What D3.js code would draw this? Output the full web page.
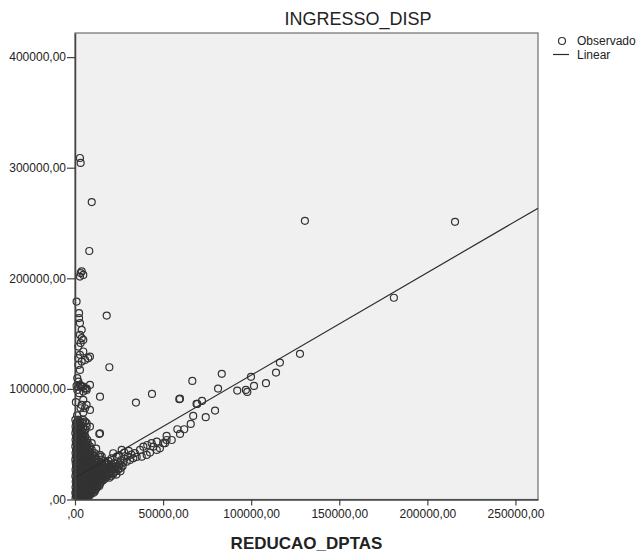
<!DOCTYPE html>
<html>
<head>
<meta charset="utf-8">
<script src="https://cdn.jsdelivr.net/npm/d3@7/dist/d3.min.js"></script>
<style>
  body { margin: 0; background: #fff; font-family: "Liberation Sans", Arial, sans-serif; }
  .tick text { fill: #222; font-size: 12px; font-family: "Liberation Sans", Arial, sans-serif; }
</style>
</head>
<body>
<div id="chart"></div>
<script>
// all values in thousands (REDUCAO_DPTAS, INGRESSO_DISP)
const farPoints = [
  [2.8,308.8],[3.2,304.3],[9.5,268.9],[8.1,224.7],[3.2,204.7],[3.8,206.2],[2.8,201.6],[4.7,203.1],
  [130.5,252],[215.7,251.1],[181,182.4],[127.7,131.7],[18,166.3],[19.5,119.6]
];
const midPoints = [
  [43.7,95.5],[59.2,90.7],[59.6,91.2],[66.6,107.2],[83.3,113.6],[69.4,86.4],[72.1,89.1],[81.2,100.3],
  [67.1,75.6],[74.2,74.4],[79.5,80.4],[58.1,63.5],[62,63.5],[65.7,68.3],[52,57.5],[59.6,59.3],
  [50.1,50.9],[44.4,47.8],[54.9,53.8],[99.9,110.9],[92.1,98.5],[97,99.1],[97.8,97.3],[101.6,102.7],
  [108.4,105.2],[114.1,114.8],[116.3,123.8],[34.6,87.6],[69,86.4],[13.8,59.3],[9.5,50.9],[14.2,93]
];
const branchPoints = [
  [36.9,44.8],[38.8,47.8],[41,49.3],[43.5,50.9],[46.4,52.3],[21.7,41.8],[26.5,44.8],[23.7,38.7],
  [20.8,37.3],[15.2,38.7],[14.2,40.3],[25.1,31.2],[27.4,33.3],[29.3,34.2],[31.2,35.7],[33.1,37.3],
  [35,38.5],[37.9,38.7],[40.7,40.3],[42.6,42.4],[46.4,44.8],[48.2,46.3],[51.1,50.9],[52,53.8],
  [14.2,59.9],[8.5,65.9],
  [16,20],[18,22],[20,24],[22,27],[24,29],[17.5,25],[19,28],[21,30],[23,32.5],[26,35.5],
  [28,37],[30,39],[32,40.5],[34,42],[25,40],[28,42.5],[30.5,44],[17,33],[19,35],[12,46]
];
const columnPoints = [
  [0.9,179],[2.3,168.5],[2.3,164],[2.8,159.5],[3.8,153.4],[2.8,148.9],[3.8,145.9],[4.7,144.3],
  [3.2,141.4],[1.9,138.3],[4.7,133.8],[2.8,130.8],[1.9,127.8],[3.8,124.7],[5.7,126.2],[7.5,127.8],
  [8.5,129.2],[1.9,121.7],[2.8,117.2],[1.3,109.7],[1.9,106.6],[2.8,103.6],[3.8,102.1],[5.7,100.6],
  [8.5,103.6],[0.9,102.7],[1.9,102.1],[3.2,102.7],[4.7,102.1],[6.6,100.3],[1.3,99.1],[2.4,96.1],
  [4.7,97.6],[6.6,99.1],[4.7,90],[3.8,85.5],[5.7,82.5],[8.5,81],[3.2,82.5],[6.6,85.5],[4.7,78.6],
  [1.9,72],[5.7,70.4],[4.7,72],[6.6,69],[6.6,65.9],[2.8,59.9],[4.7,56.8],[0.5,88],[1.2,76]
];
// dense block near the origin: one row of x values per y value
const blobY = [1,3.5,6,8.5,11,13.5,16,18.5,21,24,27,30,33,36,39,42,45,48,51,54,57,60,63,66,69,72];
const blobX = [
  [0.3,1.5,3,4.5,6,7.5],
  [0.5,2,3.5,5,6.5,8],
  [0.2,1.2,2.8,4.2,5.8,7.3,8.8,10.5],
  [0.6,2.2,3.6,5.1,6.6,8.2,9.7,11.3],
  [0.3,1.7,3.2,4.8,6.3,7.9,9.4,11,12.6],
  [0.8,2.4,3.9,5.5,7,8.6,10.1,11.8,13.5],
  [0.4,1.9,3.4,5,6.6,8.1,9.7,11.4,13,14.6],
  [0.7,2.3,3.8,5.3,6.9,8.5,10.2,11.8,13.4,15.1,16.8],
  [0.2,1.6,3.1,4.7,6.3,7.9,9.5,11,12.7,14.4,16,18.2,20.5],
  [0.5,2.1,3.6,5.2,6.8,8.4,10,11.7,13.3,15,17,19.5,22],
  [0.3,1.8,3.4,4.9,6.5,8.1,9.8,11.4,13.1,15.2,18,21,24.5],
  [0.6,2.2,3.7,5.3,6.9,8.6,10.3,12,14,16.5,19.8,23,27],
  [0.4,1.9,3.5,5,6.7,8.4,10.1,12.2,14.8,18,22],
  [0.2,1.6,3.2,4.8,6.4,8.1,9.9,12,15],
  [0.5,2,3.6,5.2,6.9,8.7,10.8,13.5],
  [0.3,1.8,3.3,4.9,6.6,8.5,11],
  [0.6,2.2,3.8,5.5,7.3,9.5],
  [0.2,1.7,3.2,4.8,6.6,8.5],
  [0.5,2,3.6,5.3,7.2],
  [0.3,1.8,3.4,5.1,7],
  [0.6,2.1,3.8,5.8],
  [0.2,1.7,3.3,5.2],
  [0.5,2,3.7,5.9],
  [0.3,1.8,3.5],
  [0.6,2.2,4.3],
  [0.2,1.9]
];
// second, staggered set of rows inside the same block
const blobY2 = [2.2,4.7,7.2,9.7,12.2,14.7,17.2,19.7,22.5,25.5,28.5,31.5,34.5,37.5,40.5,43.5,46.5,49.5,52.5,55.5,58.5,61.5,64.5,67.5,70.5];
const blobX2 = [
  [1,2.3,3.8,5.3,6.8],
  [0.9,2.6,4.1,5.7,7.2,8.9],
  [0.8,2,3.5,4.9,6.5,8,9.6,11.2],
  [1.1,2.6,4,5.6,7.1,8.7,10.3,12],
  [1,2.5,4,5.6,7.2,8.8,10.4,12,13.8],
  [1.2,2.8,4.4,5.9,7.5,9.1,10.8,12.6,14.4],
  [1.1,2.7,4.2,5.8,7.4,9,10.6,12.3,14,15.8],
  [1,2.5,4,5.6,7.2,8.8,10.4,12.1,13.8,15.6,17.5,19.5],
  [0.9,2.4,4,5.5,7.1,8.7,10.4,12,13.7,15.5,17.4,19.5,21.5,23.5],
  [1.2,2.8,4.3,6,7.6,9.2,10.8,12.5,14.2,16,18.5,20.5,23,25.8],
  [1,2.6,4.1,5.7,7.3,8.9,10.6,12.3,14.2,16.8,19.5,22.5,26],
  [1.3,2.9,4.5,6.1,7.7,9.4,11.2,13.1,15.5,18.5,21,25],
  [1.1,2.6,4.2,5.8,7.5,9.2,11,13.5,16.5],
  [1,2.7,4.3,6,7.7,9.5,11.8],
  [1.2,2.7,4.2,5.8,7.6,9.8],
  [1,2.6,4.2,6,8],
  [1.2,2.8,4.4,6.2,8.3],
  [1,2.6,4.2,6.1],
  [1.3,2.9,4.5,6.3],
  [1,2.6,4.4],
  [1.2,2.8,4.6],
  [1,2.5,4.2],
  [1.2,2.7,4.6],
  [1,2.6],
  [1.3,3]
];
// linear fit end points
const fitX = [0, 262.8];
const fitY = [19.6, 263.4];

const xTicks = [0, 50000, 100000, 150000, 200000, 250000];
const yTicks = [0, 100000, 200000, 300000, 400000];

const W = 640, H = 552;
const pL = 75, pR = 538, pT = 33, pB = 499.5;

const svg = d3.select("#chart").append("svg")
  .attr("width", W).attr("height", H);

const x = d3.scaleLinear().domain([0, 262800]).range([pL, pR]);
const y = d3.scaleLinear().domain([0, 421800]).range([pB, pT]);

// plot background + frame
svg.append("rect")
  .attr("x", pL).attr("y", pT)
  .attr("width", pR - pL).attr("height", pB - pT)
  .attr("fill", "#f0f0f0")
  .attr("stroke", "#6e6e6e")
  .attr("stroke-width", 1.2);

svg.append("clipPath").attr("id", "plotclip")
  .append("rect")
  .attr("x", pL - 6).attr("y", pT)
  .attr("width", pR - pL + 6).attr("height", pB - pT);

let points = [].concat(farPoints, midPoints, branchPoints, columnPoints);
blobY.forEach((yy, i) => blobX[i].forEach(xx => points.push([xx, yy])));
blobY2.forEach((yy, i) => blobX2[i].forEach(xx => points.push([xx, yy])));

const g = svg.append("g").attr("clip-path", "url(#plotclip)");

g.selectAll(".obs")
  .data(points)
  .enter().append("circle")
  .attr("class", "obs")
  .attr("cx", d => x(d[0] * 1000))
  .attr("cy", d => y(d[1] * 1000))
  .attr("r", 3.5)
  .attr("fill", "none")
  .attr("stroke", "#333")
  .attr("stroke-width", 1.2);

g.append("line")
  .attr("x1", x(fitX[0] * 1000)).attr("y1", y(fitY[0] * 1000))
  .attr("x2", x(fitX[1] * 1000)).attr("y2", y(fitY[1] * 1000))
  .attr("stroke", "#2a2a2a")
  .attr("stroke-width", 1.2);

const fmt = d => d === 0 ? ",00" : d + ",00";

const yAxis = svg.append("g")
  .attr("transform", `translate(${pL},0)`)
  .call(d3.axisLeft(y).tickValues(yTicks).tickFormat(fmt).tickSize(8).tickPadding(1).tickSizeOuter(0));
const xAxis = svg.append("g")
  .attr("transform", `translate(0,${pB})`)
  .call(d3.axisBottom(x).tickValues(xTicks).tickFormat(fmt).tickSize(6).tickPadding(4).tickSizeOuter(0));

[yAxis, xAxis].forEach(a => {
  a.select(".domain").attr("stroke", "#444").attr("stroke-width", 1.5);
  a.selectAll(".tick line").attr("stroke", "#444").attr("stroke-width", 1.2);
});

// titles
svg.append("text")
  .attr("x", 358).attr("y", 25)
  .attr("text-anchor", "middle")
  .attr("font-size", 18)
  .attr("fill", "#222")
  .text("INGRESSO_DISP");

svg.append("text")
  .attr("x", (pL + pR) / 2).attr("y", 549)
  .attr("text-anchor", "middle")
  .attr("font-size", 17)
  .attr("font-weight", "bold")
  .attr("fill", "#222")
  .text("REDUCAO_DPTAS");

// legend
const leg = svg.append("g");
leg.append("circle")
  .attr("cx", 562).attr("cy", 41).attr("r", 3.5)
  .attr("fill", "none").attr("stroke", "#333").attr("stroke-width", 1.2);
leg.append("text")
  .attr("x", 577).attr("y", 45)
  .attr("font-size", 12).attr("fill", "#222")
  .text("Observado");
leg.append("line")
  .attr("x1", 553).attr("x2", 569).attr("y1", 54.5).attr("y2", 54.5)
  .attr("stroke", "#2a2a2a").attr("stroke-width", 1.2);
leg.append("text")
  .attr("x", 577).attr("y", 59)
  .attr("font-size", 12).attr("fill", "#222")
  .text("Linear");
</script>
</body>
</html>
